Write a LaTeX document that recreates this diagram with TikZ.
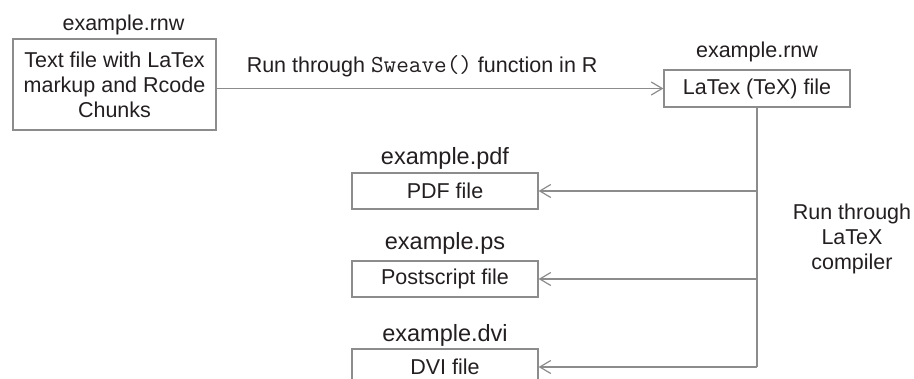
\documentclass[tikz,border=0pt]{standalone}
\usepackage{fontspec}
\setmainfont{Liberation Sans}
\usetikzlibrary{arrows.meta,positioning,calc}
\definecolor{linegray}{HTML}{8C8C8C}
\definecolor{ink}{HTML}{231F20}
\tikzset{
  >={Straight Barb[length=11pt,width=13pt]},
  file/.style  = {draw=linegray, line width=1.2pt, inner sep=0pt, align=center, text=ink, minimum width=186pt, minimum height=36pt, font=\fontsize{21.5}{25}\selectfont},
  fname/.style = {text=ink, inner sep=0pt, font=\fontsize{23.5}{27}\selectfont},
  sname/.style = {text=ink, inner sep=0pt, align=center, font=\fontsize{21.5}{25}\selectfont},
  link/.style  = {draw=linegray, line width=1.2pt}
}

\begin{document}
\begin{tikzpicture}[x=1pt,y=-1pt]
\useasboundingbox (0,0) rectangle (914,379);
% source and Sweave output
\node[file, minimum width=203pt, minimum height=91pt] (txt) at (114.5,84.5) {Text file with LaTex\\markup and Rcode\\Chunks};
\node[sname, above=8pt of txt, anchor=base, xshift=9pt] (rnwa) {example.rnw};
\node[file, minimum height=37pt] (tex) at (757,88.5) {LaTex (TeX) file};
\node[sname, above=12pt of tex, anchor=base] (rnwb) {example.rnw};
\draw[link,->] (txt.east |- tex.west) -- node[sname, pos=0.46, anchor=base, yshift=16pt] (swv) {Run through {\fontsize{24.5}{25}\selectfont\ttfamily Sweave()} function in R} (tex.west);

% compiled outputs
\node[file] (pdf) at (445,191) {PDF file};
\node[file] (ps) at (445,279) {Postscript file};
\node[file] (dvi) at (445,367) {DVI file};
\node[fname, above=8pt of pdf, anchor=base] (pdfname) {example.pdf};
\node[fname, above=11pt of ps, anchor=base] (psname) {example.ps};
\node[fname, above=7pt of dvi, anchor=base] (dviname) {example.dvi};
\draw[link] (tex.south) -- (tex.south |- dvi.east);
\foreach \f in {pdf,ps,dvi}
  \draw[link,->] (tex.south |- \f.east) -- (\f.east);
\node[sname] (comp) at (852,239) {Run through\\LaTeX\\compiler};
\end{tikzpicture}
\end{document}
